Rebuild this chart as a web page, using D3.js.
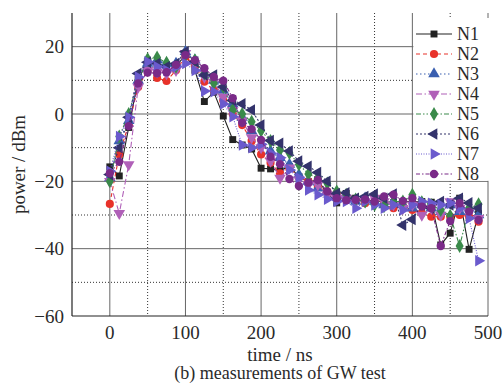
<!DOCTYPE html>
<html>
<head>
<meta charset="utf-8">
<script src="https://cdn.jsdelivr.net/npm/d3@7"></script>
<style>
  html, body { margin: 0; padding: 0; background: #fff; }
</style>
</head>
<body>
<svg id="chart" width="504" height="390" font-family="'Liberation Serif', 'Times New Roman', Times, serif"></svg>
<script>
// time samples, 12.5 ns apart
const times = d3.range(40).map(i => i * 12.5);

const seriesNames = ["N1", "N2", "N3", "N4", "N5", "N6", "N7", "N8"];

const n1 = [-15.7, -18.4, -4, 10.3, 15.5, 14.7, 14.5, 14.2, 17.5, 13, 3.7, 6.5, -0.6, -7.6, -9.2, -10.4, -16.1, -16.3, -16.8, -15.6,
  -18.6, -20.1, -19.6, -23.6, -26.4, -23.6, -25, -25.6, -25.8, -26, -26.3, -26, -26, -26, -26.2, -38.9, -35.4, -25, -40.2, -29.6];
const n2 = [-26.7, -12, -3, 8, 13, 10.7, 9.8, 13, 17, 14.5, 9.6, 7, 4, 0, -3.3, -8, -12, -14.5, -17.6, -16.1,
  -18.7, -20, -21.7, -23, -23.6, -25, -25.6, -26.5, -26, -27, -28, -27.5, -28.5, -29.5, -30.5, -30.5, -30.5, -30, -30.5, -32];
const n3 = [-19, -8, -2, 10, 15, 16, 15, 15, 18.5, 16, 12, 10, 7, 3, -1, -5, -9, -11, -13, -15,
  -18, -20, -22, -23, -24, -25, -26, -25, -26, -27, -26, -27, -28, -27, -28, -29, -27, -29, -28, -30];
const n4 = [-20, -29.5, -15, 8, 13, 12.5, 12, 13, 18, 15, 11, 9.5, 5, 1, -2, -7, -10, -14, -19, -16,
  -19.5, -21, -21, -24, -25, -25, -26, -26, -25, -26, -27, -28, -27, -30, -28, -30, -26, -28, -29, -31];
const n5 = [-20, -6.7, 0, 10, 16.3, 16.8, 15.2, 14, 17.5, 16, 12, 9.1, 8, 1.2, 0, -2.3, -5, -8, -10.7, -11.6,
  -15, -17.8, -19, -20.6, -23, -24, -25.4, -26, -27, -27.4, -26, -26, -24, -26.2, -27, -28.5, -30.2, -39.2, -28, -26.8];
const n6 = [-18, -10, -1, 12, 15.4, 15, 14, 15, 18.5, 15.5, 11.6, 11.6, 8, 4, 3, 1.2, -3.3, -7.9, -8.7, -11,
  -14, -15.5, -17.4, -20, -23.6, -23.4, -25, -24.5, -23.8, -25, -23.8, -33, -31.3, -27, -28, -26, -27, -25, -26.4, -28];
const n7 = [-17, -6.7, -1, 11, 15.5, 14, 13, 14, 15, 12.9, 6.8, 6.6, 3, -0.8, -9.2, -10, -9, -11.7, -13, -16.6,
  -19, -22.6, -24, -25.3, -26, -26, -28, -26, -27, -28, -27, -28.5, -27, -26, -26.5, -27, -26.5, -28, -31, -43.6];
const n8 = [-17.6, -14.2, -3.6, 9.1, 12.3, 12.1, 12.4, 14.6, 17.5, 16, 13.6, 11, 9.9, 4.7, -2.6, -4.5, -7.7, -12.7, -14.9, -19.3,
  -21.4, -20.4, -19.6, -23, -25, -25.6, -25.5, -25.4, -26, -24.5, -24, -25.8, -25, -27.5, -28, -39.2, -31.8, -26.5, -29, -31.5];

const seriesValues = [n1, n2, n3, n4, n5, n6, n7, n8];

const xTicks = [0, 100, 200, 300, 400, 500];
const yTicks = [20, 0, -20, -40, -60];

// styling per series
const colors = ["#222222", "#e8322a", "#3a5fb0", "#b060b8", "#3a8a4a", "#33336b", "#6a5acd", "#7a2a88"];
const dashes = [null, "4,3", "1.5,2.5", "6,2.5,1.5,2.5", "5,2,1.5,2,1.5,2", "2,2", "1,1.5", "4,2,1.5,2"];
const shapes = [
  { type: d3.symbolSquare, rot: 0, size: 48 },
  { type: d3.symbolCircle, rot: 0, size: 52 },
  { type: d3.symbolTriangle, rot: 0, size: 58 },
  { type: d3.symbolTriangle, rot: 180, size: 58 },
  { type: d3.symbolDiamond, rot: 0, size: 56 },
  { type: d3.symbolTriangle, rot: -90, size: 58 },
  { type: d3.symbolTriangle, rot: 90, size: 58 },
  { type: d3.symbolCircle, rot: 0, size: 55 }
];

const svg = d3.select("#chart");
const mLeft = 72, mRight = 488, mTop = 13, mBottom = 316;
const textColor = "#2a2a2a";

const x = d3.scaleLinear().domain([-50, 500]).range([mLeft, mRight]);
const y = d3.scaleLinear().domain([-60, 30]).range([mBottom, mTop]);

// grid: solid at major ticks, dotted halfway between
const grid = svg.append("g");
grid.selectAll("line.vmaj").data(d3.range(0, 501, 100)).join("line")
  .attr("x1", d => x(d)).attr("x2", d => x(d)).attr("y1", mTop).attr("y2", mBottom)
  .attr("stroke", "#666").attr("stroke-width", 1);
grid.selectAll("line.vmin").data(d3.range(50, 500, 100)).join("line")
  .attr("x1", d => x(d)).attr("x2", d => x(d)).attr("y1", mTop).attr("y2", mBottom)
  .attr("stroke", "#333").attr("stroke-width", 1).attr("stroke-dasharray", "1,2");
grid.selectAll("line.hmaj").data([20, 0, -20, -40]).join("line")
  .attr("x1", mLeft).attr("x2", mRight).attr("y1", d => y(d)).attr("y2", d => y(d))
  .attr("stroke", "#666").attr("stroke-width", 1);
grid.selectAll("line.hmin").data([10, -10, -30, -50]).join("line")
  .attr("x1", mLeft).attr("x2", mRight).attr("y1", d => y(d)).attr("y2", d => y(d))
  .attr("stroke", "#333").attr("stroke-width", 1).attr("stroke-dasharray", "1,2");

// series
const line = d3.line().x((d, i) => x(times[i])).y(d => y(d));
seriesValues.forEach((vals, k) => {
  const g = svg.append("g");
  g.append("path").datum(vals)
    .attr("d", line)
    .attr("fill", "none")
    .attr("stroke", colors[k])
    .attr("stroke-width", 1.1)
    .attr("stroke-dasharray", dashes[k]);
  const sym = d3.symbol().type(shapes[k].type).size(shapes[k].size);
  g.selectAll("path.m").data(vals).join("path")
    .attr("class", "m")
    .attr("d", sym)
    .attr("fill", colors[k])
    .attr("transform", (d, i) => `translate(${x(times[i])},${y(d)}) rotate(${shapes[k].rot})`);
});

// axes lines
svg.append("line").attr("x1", mLeft).attr("x2", mLeft).attr("y1", mTop).attr("y2", mBottom)
  .attr("stroke", "#222").attr("stroke-width", 1.2);
svg.append("line").attr("x1", mLeft).attr("x2", mRight).attr("y1", mBottom).attr("y2", mBottom)
  .attr("stroke", "#222").attr("stroke-width", 1.2);

// tick labels
svg.append("g").selectAll("text").data(yTicks).join("text")
  .attr("x", mLeft - 8).attr("y", d => y(d)).attr("dy", "0.35em")
  .attr("text-anchor", "end").attr("font-size", 19).attr("fill", textColor)
  .text(d => d < 0 ? "\u2212" + Math.abs(d) : d);
svg.append("g").selectAll("text").data(xTicks).join("text")
  .attr("x", d => x(d)).attr("y", 339)
  .attr("text-anchor", "middle").attr("font-size", 19).attr("fill", textColor)
  .text(d => d);

svg.append("text").attr("x", x(225)).attr("y", 361).attr("text-anchor", "middle")
  .attr("font-size", 19).attr("fill", textColor).text("time / ns");
svg.append("text").attr("x", x(225)).attr("y", 379).attr("text-anchor", "middle")
  .attr("font-size", 18).attr("fill", textColor).text("(b) measurements of GW test");
svg.append("text").attr("transform", `translate(25,${(mTop + mBottom) / 2}) rotate(-90)`)
  .attr("text-anchor", "middle").attr("font-size", 19).attr("fill", textColor).text("power / dBm");

// legend
const lg = svg.append("g");
lg.append("rect").attr("x", x(400) + 1).attr("y", 18).attr("width", 504 - x(400)).attr("height", y(-20) - 18 - 0.5)
  .attr("fill", "#fff");
seriesNames.forEach((name, k) => {
  const ly = 34 + k * 20;
  lg.append("line").attr("x1", 416).attr("x2", 452).attr("y1", ly).attr("y2", ly)
    .attr("stroke", colors[k]).attr("stroke-width", 1.1).attr("stroke-dasharray", dashes[k]);
  lg.append("path").attr("d", d3.symbol().type(shapes[k].type).size(shapes[k].size)())
    .attr("fill", colors[k])
    .attr("transform", `translate(434,${ly}) rotate(${shapes[k].rot})`);
  lg.append("text").attr("x", 457).attr("y", ly).attr("dy", "0.35em")
    .attr("font-size", 18).attr("fill", textColor).text(name);
});
</script>
</body>
</html>
